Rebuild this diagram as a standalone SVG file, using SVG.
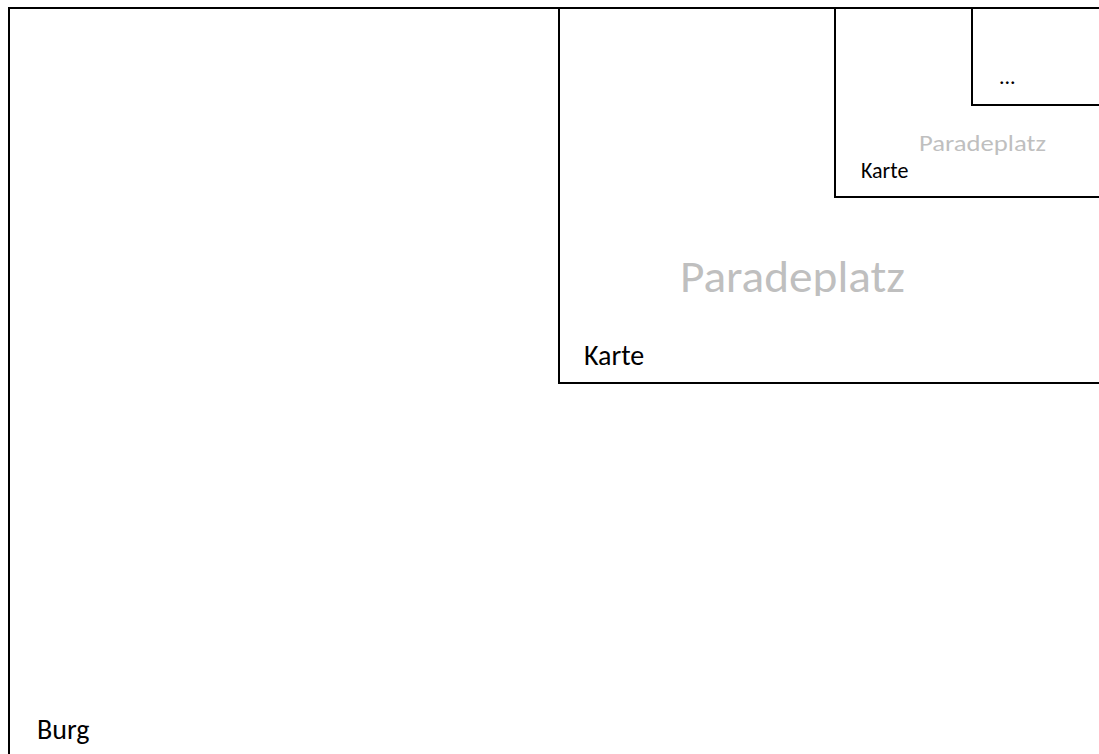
<svg xmlns="http://www.w3.org/2000/svg" width="1099" height="754" viewBox="0 0 1099 754">
<style>
.frame{fill:none;stroke:#000;stroke-width:2}
.lbl{font-family:Carlito,"Open Sans","Liberation Sans",sans-serif;fill:#000}
.gray{font-family:Carlito,"Open Sans","Liberation Sans",sans-serif;fill:#bfbfbf}
</style>
<defs>
<clipPath id="clipBig"><rect x="560" y="9" width="539" height="287"/></clipPath>
</defs>
<rect width="1099" height="754" fill="#fff"/>
<g id="burg">
<path class="frame" d="M9,760 V8 H1105"/>
<text class="lbl" x="37" y="739" font-size="28">Burg</text>
</g>
<g id="karte1">
<path class="frame" d="M559,8 V383 H1105"/>
<text class="gray" x="680" y="292" font-size="45" clip-path="url(#clipBig)" textLength="225" lengthAdjust="spacingAndGlyphs">Paradeplatz</text>
<text class="lbl" x="584" y="365" font-size="28">Karte</text>
</g>
<g id="karte2">
<path class="frame" d="M835,8 V197 H1105"/>
<text class="gray" x="919" y="151" font-size="23" textLength="127" lengthAdjust="spacingAndGlyphs">Paradeplatz</text>
<text class="lbl" x="861" y="178" font-size="22">Karte</text>
</g>
<g id="karte3">
<path class="frame" d="M972,8 V105 H1105"/>
<text class="lbl" x="999" y="84" font-size="22">...</text>
</g>
</svg>
